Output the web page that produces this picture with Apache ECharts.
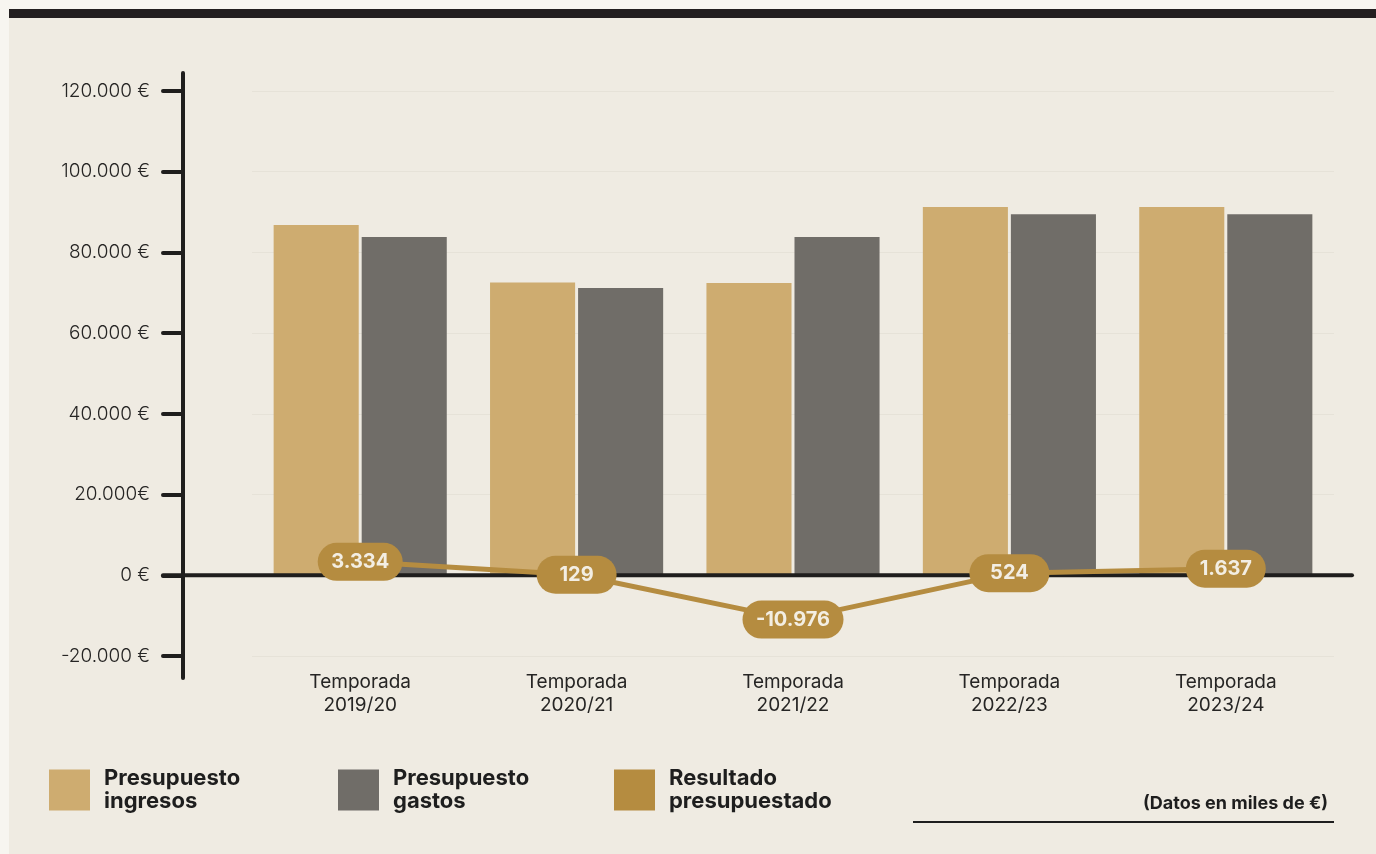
<!DOCTYPE html>
<html><head><meta charset="utf-8">
<script src="https://cdn.jsdelivr.net/npm/echarts@6/dist/echarts.min.js"></script>
<style>html,body{margin:0;padding:0;background:#f7f5f0}#c{width:1376px;height:854px}</style>
</head><body><div id="c"></div>
<script>
// ---- data ----
const categories = ['Temporada\n2019/20', 'Temporada\n2020/21', 'Temporada\n2021/22', 'Temporada\n2022/23', 'Temporada\n2023/24'];
const ingresos = [86780, 72570, 72400, 91240, 91240];
const gastos = [83800, 71160, 83800, 89450, 89450];
const resultado = [3334, 129, -10976, 524, 1637];
const yTickValues = [-20000, 0, 20000, 40000, 60000, 80000, 100000, 120000];
const yTickLabels = ['-20.000 €', '0 €', '20.000€', '40.000 €', '60.000 €', '80.000 €', '100.000 €', '120.000 €'];
const seriesNames = ['Presupuesto ingresos', 'Presupuesto gastos', 'Resultado presupuestado'];

const FONT = 'Inter, Lato, "Noto Sans", sans-serif';
const C_ING = '#ceac70', C_GAS = '#706d68', C_RES = '#b58c40', C_AX = '#1f1e1d';

function fmt(v) {
  const s = Math.abs(v).toString().replace(/\B(?=(\d{3})+(?!\d))/g, '.');
  return (v < 0 ? '-' : '') + s;
}
const cv = document.createElement('canvas').getContext('2d');
cv.font = 'bold 20px ' + FONT;

const chart = echarts.init(document.getElementById('c'), null, {renderer: 'canvas'});
const option = {
  backgroundColor: '#efebe2',
  animation: false,
  grid: {left: 252, right: 42, top: 91, bottom: 198},
  xAxis: {
    type: 'category', data: categories, position: 'bottom',
    axisLine: {show: false}, axisTick: {show: false},
    axisLabel: {margin: 15, fontFamily: FONT, fontSize: 19, lineHeight: 23, color: '#262524'}
  },
  yAxis: {
    type: 'value', min: -20000, max: 120000, interval: 20000, offset: 69,
    axisLine: {show: false},
    axisTick: {show: true, length: 20, lineStyle: {color: C_AX, width: 4, cap: 'round'}},
    splitLine: {show: true, lineStyle: {color: 'rgba(120,110,90,0.07)', width: 1}},
    axisLabel: {
      margin: 33, fontFamily: FONT, fontSize: 19, fontWeight: 300, color: '#262524',
      formatter: v => yTickLabels[yTickValues.indexOf(v)]
    }
  },
  legend: seriesNames.map((n, i) => ({
    data: [n], left: [49, 338, 614][i], top: 767, padding: 0,
    itemWidth: 41, itemHeight: 41, icon: 'rect',
    formatter: name => name.replace(' ', '\n'),
    textStyle: {fontFamily: FONT, fontWeight: 'bold', fontSize: 22, lineHeight: 23, color: '#1e1e1e', padding: [0, 0, 0, 9]}
  })),
  series: [
    {name: seriesNames[0], type: 'bar', data: ingresos, itemStyle: {color: C_ING},
     barCategoryGap: '20%', barGap: '3.5%', z: 2},
    {name: seriesNames[1], type: 'bar', data: gastos, itemStyle: {color: C_GAS}, z: 2},
    {name: seriesNames[2], type: 'line', z: 10,
     data: resultado.map(v => ({value: v, label: {width: Math.max(54, Math.ceil(cv.measureText(fmt(v)).width))}})),
     symbol: 'circle', symbolSize: 2, showSymbol: true,
     itemStyle: {color: C_RES}, lineStyle: {color: C_RES, width: 5},
     label: {show: true, position: 'inside', formatter: p => fmt(p.value),
       backgroundColor: C_RES, borderRadius: 19, padding: [10, 13, 8, 13], align: 'center',
       color: '#f3eee3', fontFamily: FONT, fontWeight: 'bold', fontSize: 20}
    }
  ]
};
chart.setOption(option);

const y0 = chart.convertToPixel({yAxisIndex: 0}, 0);
const yTop = chart.convertToPixel({yAxisIndex: 0}, 120000);
const yBot = chart.convertToPixel({yAxisIndex: 0}, -20000);
const axX = 183;
chart.setOption({
  graphic: [
    {type: 'rect', shape: {x: 0, y: 0, width: 1376, height: 9}, style: {fill: '#f7f5f0'}, silent: true},
    {type: 'rect', shape: {x: 0, y: 0, width: 9, height: 854}, style: {fill: '#f7f5f0'}, silent: true},
    {type: 'rect', shape: {x: 9, y: 9, width: 1367, height: 9}, style: {fill: '#231f20'}, silent: true},
    {type: 'line', z: 5, shape: {x1: axX, y1: yTop - 18, x2: axX, y2: yBot + 22}, style: {stroke: C_AX, lineWidth: 4, lineCap: 'round'}},
    {type: 'line', z: 5, shape: {x1: 163, y1: y0, x2: 1352, y2: y0}, style: {stroke: C_AX, lineWidth: 4, lineCap: 'round'}},
    {type: 'text', z: 5, style: {x: 1328, y: 804, text: '(Datos en miles de €)', align: 'right', verticalAlign: 'middle',
      font: 'bold 18px ' + FONT, fill: '#1e1e1e'}},
    {type: 'line', z: 5, shape: {x1: 913, y1: 822, x2: 1334, y2: 822}, style: {stroke: '#1e1e1e', lineWidth: 2}}
  ]
});
</script></body></html>
